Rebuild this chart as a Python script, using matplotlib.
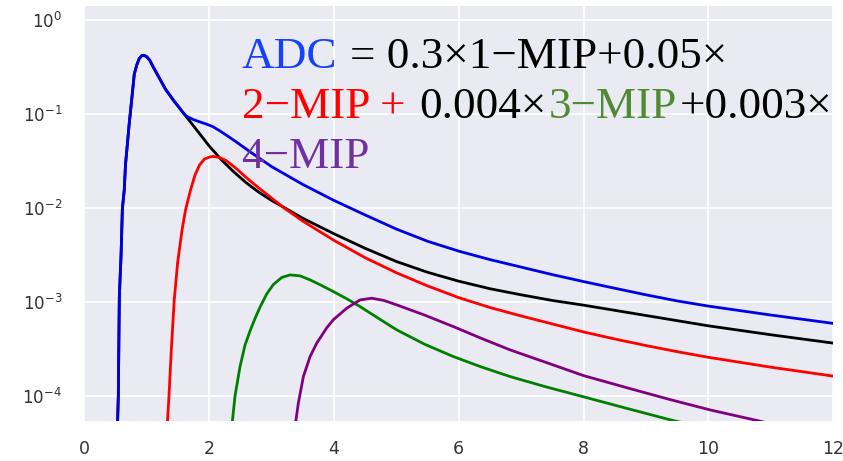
import matplotlib
matplotlib.use("Agg")
import numpy as np
import matplotlib.pyplot as plt

plt.style.use("seaborn-v0_8-darkgrid")
plt.rcParams["font.family"] = ["DejaVu Sans"]

# ============================================================
# Curves: x and log10(y) (y axis is log)
# ============================================================
adc_x = [0.52, 0.545, 0.561, 0.589, 0.61, 0.64, 0.66, 0.696, 0.72, 0.748,
         0.775, 0.801, 0.84, 0.88, 0.92, 0.95, 1.0, 1.05, 1.1, 1.2,
         1.3, 1.44, 1.53, 1.58, 1.63, 1.74, 1.84, 1.95, 2.06, 2.16,
         2.27, 2.43, 2.65, 3.0, 3.5, 4.0, 4.5, 5.0, 5.5, 6.0,
         6.5, 7.0, 7.5, 8.0, 8.5, 9.0, 9.5, 10.0, 11.0, 12.0]
adc_log = [-4.6, -4.0, -2.95, -2.5, -2.01, -1.81, -1.54, -1.277, -1.10, -0.922,
           -0.745, -0.575, -0.48, -0.41, -0.38, -0.375, -0.39, -0.43, -0.495, -0.615,
           -0.735, -0.865, -0.94, -0.985, -1.02, -1.058, -1.082, -1.106, -1.135, -1.175,
           -1.223, -1.295, -1.40, -1.56, -1.75, -1.92, -2.075, -2.225, -2.355, -2.46,
           -2.55, -2.63, -2.71, -2.784, -2.855, -2.925, -2.99, -3.045, -3.14, -3.229]

mip1_x = [0.52, 0.545, 0.561, 0.589, 0.61, 0.64, 0.66, 0.696, 0.72, 0.748,
          0.775, 0.801, 0.84, 0.88, 0.92, 0.95, 1.0, 1.05, 1.1, 1.2,
          1.3, 1.44, 1.53, 1.6, 1.7, 1.8, 1.9, 2.0, 2.2, 2.4,
          2.6, 2.8, 3.0, 3.2, 3.5, 4.0, 4.5, 5.0, 5.5, 6.0,
          6.5, 7.0, 7.5, 8.0, 8.5, 9.0, 9.5, 10.0, 11.0, 12.0]
mip1_log = [-4.6, -4.0, -2.95, -2.5, -2.01, -1.81, -1.54, -1.277, -1.10, -0.922,
            -0.745, -0.575, -0.48, -0.41, -0.38, -0.375, -0.39, -0.43, -0.495, -0.615,
            -0.735, -0.865, -0.94, -1.0, -1.085, -1.17, -1.255, -1.34, -1.49, -1.62,
            -1.735, -1.835, -1.92, -1.995, -2.11, -2.275, -2.43, -2.57, -2.685, -2.78,
            -2.86, -2.925, -2.985, -3.035, -3.09, -3.145, -3.2, -3.255, -3.35, -3.439]

mip2_x = [1.31, 1.333, 1.357, 1.394, 1.441, 1.495, 1.566, 1.622, 1.702, 1.774,
          1.846, 1.926, 2.014, 2.06, 2.15, 2.27, 2.43, 2.6, 2.8, 3.0,
          3.2, 3.5, 4.0, 4.5, 5.0, 5.5, 6.0, 6.5, 7.0, 7.5,
          8.0, 8.5, 9.0, 9.5, 10.0, 11.0, 12.0]
mip2_log = [-4.6, -4.266, -4.0, -3.511, -2.979, -2.585, -2.234, -2.021, -1.809, -1.649,
            -1.543, -1.479, -1.457, -1.452, -1.46, -1.495, -1.578, -1.68, -1.79, -1.895,
            -2.0, -2.14, -2.345, -2.53, -2.69, -2.83, -2.955, -3.06, -3.15, -3.235,
            -3.32, -3.395, -3.465, -3.53, -3.59, -3.695, -3.79]

mip3_x = [2.35, 2.372, 2.415, 2.495, 2.575, 2.655, 2.736, 2.816, 2.923, 3.029,
          3.163, 3.296, 3.457, 3.617, 3.8, 3.99, 4.2, 4.418,
          4.7, 5.006, 5.45, 5.913, 6.35, 6.822, 7.4, 7.997, 8.7, 9.386, 9.866]
mip3_log = [-4.45, -4.273, -4.0, -3.688, -3.46, -3.31, -3.175, -3.055, -2.915, -2.815,
            -2.74, -2.713, -2.723, -2.766, -2.825, -2.89, -2.965, -3.05,
            -3.17, -3.298, -3.45, -3.582, -3.69, -3.795, -3.905, -4.01, -4.135, -4.255, -4.33]

mip4_x = [3.37, 3.388, 3.429, 3.51, 3.617, 3.724, 3.885, 3.99, 4.205, 4.418,
          4.606, 4.8, 5.006, 5.45, 5.913, 6.35, 6.822, 7.4,
          8.0, 8.7, 9.386, 10.027, 10.829, 11.15]
mip4_log = [-4.45, -4.273, -4.078, -3.795, -3.582, -3.439, -3.275, -3.19, -3.067, -2.979,
            -2.961, -2.985, -3.032, -3.14, -3.263, -3.385, -3.511, -3.645,
            -3.785, -3.915, -4.04, -4.15, -4.27, -4.32]

# formula overlay: (text, colour, gap before in points)
line1 = [("ADC", "#1440ff", 0), ("= 0.3×1−MIP+0.05×", "black", 10)]
line2 = [("2−MIP +", "#ff0000", 0), ("0.004×", "black", 10),
         ("3−MIP", "#508a32", 1.5), ("+0.003×", "black", 2)]
line3 = [("4−MIP", "#7030a0", 0)]

FONT = "Liberation Serif"
FS = 32.5


def draw_line(ax, x0, y0, pieces):
    prev = None
    for txt, color, gap in pieces:
        if prev is None:
            prev = ax.annotate(txt, xy=(x0, y0), xycoords="figure fraction",
                               ha="left", va="baseline", color=color,
                               fontsize=FS, family=FONT)
        else:
            prev = ax.annotate(txt, xy=(1, 0), xycoords=prev,
                               xytext=(gap, 0), textcoords="offset points",
                               ha="left", va="bottom", color=color,
                               fontsize=FS, family=FONT)


fig = plt.figure(figsize=(8.43, 4.61), dpi=100)
ax = fig.add_axes([0.1, 0.0868, 0.8885, 0.9002])

ax.plot(mip1_x, np.power(10.0, mip1_log), color="black", lw=2)
ax.plot(mip2_x, np.power(10.0, mip2_log), color="red", lw=2)
ax.plot(mip3_x, np.power(10.0, mip3_log), color="green", lw=2)
ax.plot(mip4_x, np.power(10.0, mip4_log), color="purple", lw=2)
ax.plot(adc_x, np.power(10.0, adc_log), color="#0000e6", lw=2)

ax.set_yscale("log")
ax.set_xlim(0, 12)
ax.set_ylim(5.4e-5, 1.41)
ax.set_xticks([0, 2, 4, 6, 8, 10, 12])
ax.tick_params(axis="x", labelsize=12.5, pad=14, colors="#333333")
ax.tick_params(axis="y", labelsize=12, pad=16, colors="#333333")
ax.grid(True, which="major", color="white", lw=1.2)
ax.grid(False, which="minor")

lh = 50 / 461
draw_line(ax, 241 / 843, 1 - 68.3 / 461, line1)
draw_line(ax, 242 / 843, 1 - 68.3 / 461 - lh, line2)
draw_line(ax, 241 / 843, 1 - 68.3 / 461 - 2 * lh, line3)

plt.savefig("out.png", dpi=100)
